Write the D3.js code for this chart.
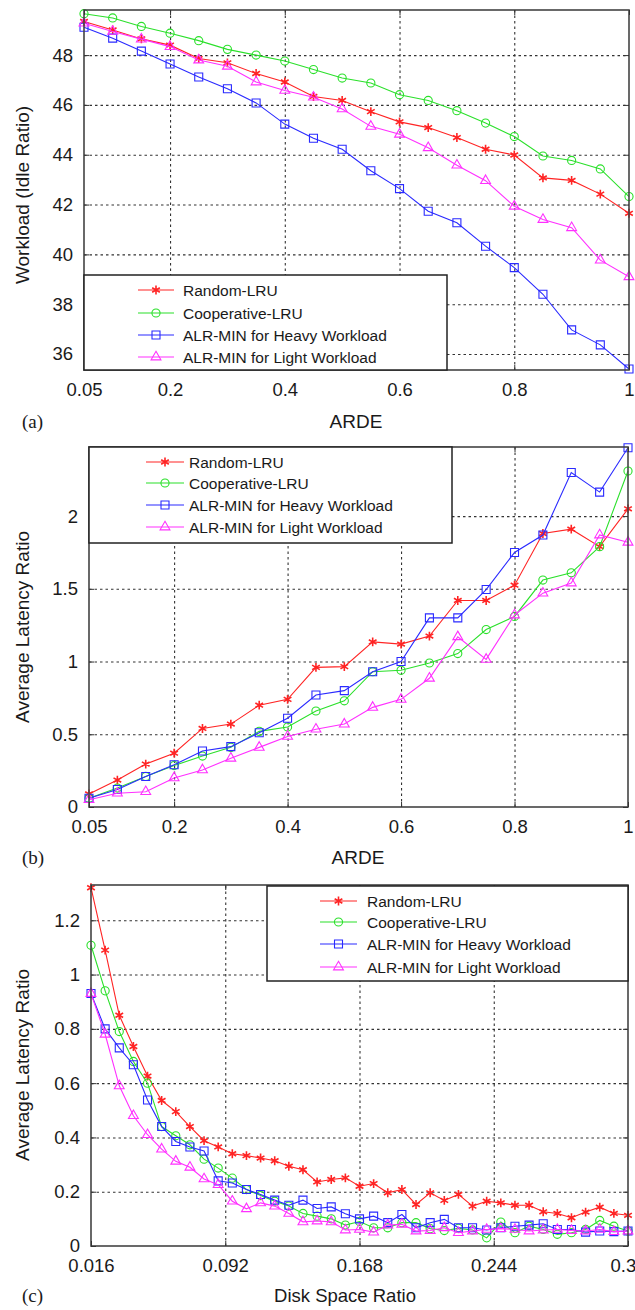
<!DOCTYPE html>
<html>
<head>
<meta charset="utf-8">
<script src="https://cdn.jsdelivr.net/npm/d3@7"></script>
<style>
  body { margin: 0; background: #fff; }
  svg { display: block; }
  text { font-family: "Liberation Sans", Arial, sans-serif; fill: #1a1a1a; }
  .tag { font-family: "Liberation Serif", "Times New Roman", serif; }
  .grid line { stroke: #333; stroke-width: 1.1; stroke-dasharray: 2.5,3; }
  .grid path, .tk path { display: none; }
  .tk line { stroke: #333; stroke-width: 1; }
</style>
</head>
<body>
<div id="chart"></div>
<script>
var seriesNames = ['Random-LRU', 'Cooperative-LRU', 'ALR-MIN for Heavy Workload', 'ALR-MIN for Light Workload'];

// panel (a) and (b): ARDE on x
var ardeX = [0.05, 0.1, 0.15, 0.2, 0.25, 0.3, 0.35, 0.4, 0.45, 0.5,
             0.55, 0.6, 0.65, 0.7, 0.75, 0.8, 0.85, 0.9, 0.95, 1.0];
var ardeTicks = [0.05, 0.2, 0.4, 0.6, 0.8, 1];
var ardeTickLabels = ['0.05', '0.2', '0.4', '0.6', '0.8', '1'];

// (a) workload (idle ratio)
var idleRandom = [49.35, 49.01, 48.65, 48.40, 47.86, 47.69, 47.26, 46.92, 46.34, 46.18,
                  45.73, 45.32, 45.09, 44.69, 44.22, 43.99, 43.07, 42.97, 42.42, 41.65];
var idleCoop   = [49.66, 49.49, 49.15, 48.88, 48.58, 48.23, 48.00, 47.76, 47.42, 47.08,
                  46.88, 46.41, 46.18, 45.77, 45.27, 44.73, 43.95, 43.77, 43.43, 42.32];
var idleHeavy  = [49.12, 48.68, 48.16, 47.64, 47.12, 46.65, 46.08, 45.23, 44.66, 44.22,
                  43.36, 42.64, 41.73, 41.27, 40.33, 39.47, 38.40, 36.97, 36.37, 35.40];
var idleLight  = [49.28, 48.95, 48.64, 48.34, 47.80, 47.55, 46.92, 46.58, 46.31, 45.84,
                  45.14, 44.82, 44.28, 43.58, 42.96, 41.93, 41.40, 41.07, 39.77, 39.10];
var idleTicks = [36, 38, 40, 42, 44, 46, 48];

// (b) average latency ratio vs ARDE
var latRandom = [0.09, 0.185, 0.295, 0.37, 0.54, 0.57, 0.70, 0.74, 0.96, 0.965,
                 1.135, 1.12, 1.175, 1.42, 1.42, 1.525, 1.88, 1.91, 1.79, 2.05];
var latCoop   = [0.06, 0.13, 0.21, 0.285, 0.35, 0.41, 0.52, 0.55, 0.66, 0.73,
                 0.93, 0.94, 0.99, 1.055, 1.22, 1.31, 1.56, 1.61, 1.79, 2.31];
var latHeavy  = [0.06, 0.12, 0.21, 0.29, 0.385, 0.415, 0.51, 0.61, 0.77, 0.80,
                 0.93, 1.0, 1.30, 1.30, 1.495, 1.75, 1.87, 2.30, 2.165, 2.47];
var latLight  = [0.05, 0.095, 0.105, 0.2, 0.255, 0.335, 0.41, 0.485, 0.535, 0.57,
                 0.685, 0.74, 0.885, 1.17, 1.015, 1.32, 1.47, 1.54, 1.87, 1.82];
var latTicks = [0, 0.5, 1, 1.5, 2];

// (c) average latency ratio vs disk space ratio
var diskX = [0.016, 0.024, 0.032, 0.040, 0.048, 0.056, 0.064, 0.072, 0.080, 0.088,
             0.096, 0.104, 0.112, 0.120, 0.128, 0.136, 0.144, 0.152, 0.160, 0.168,
             0.176, 0.184, 0.192, 0.200, 0.208, 0.216, 0.224, 0.232, 0.240, 0.248,
             0.256, 0.264, 0.272, 0.280, 0.288, 0.296, 0.304, 0.312, 0.320];
var diskTicks = [0.016, 0.092, 0.168, 0.244, 0.32];
var diskTickLabels = ['0.016', '0.092', '0.168', '0.244', '0.32'];
var diskRandom = [1.32, 1.09, 0.85, 0.735, 0.626, 0.536, 0.495, 0.44, 0.388, 0.365,
                  0.34, 0.333, 0.324, 0.314, 0.294, 0.281, 0.236, 0.245, 0.251, 0.22,
                  0.23, 0.196, 0.208, 0.153, 0.196, 0.168, 0.19, 0.147, 0.165, 0.159,
                  0.15, 0.15, 0.126, 0.12, 0.104, 0.125, 0.143, 0.12, 0.113];
var diskCoop   = [1.108, 0.94, 0.79, 0.68, 0.60, 0.44, 0.406, 0.373, 0.32, 0.287,
                  0.25, 0.208, 0.186, 0.165, 0.147, 0.12, 0.11, 0.10, 0.077, 0.09,
                  0.067, 0.067, 0.086, 0.086, 0.064, 0.057, 0.065, 0.059, 0.03, 0.088,
                  0.049, 0.073, 0.061, 0.043, 0.049, 0.061, 0.094, 0.073, 0.055];
var diskHeavy  = [0.93, 0.80, 0.73, 0.668, 0.538, 0.44, 0.385, 0.365, 0.35, 0.24,
                  0.232, 0.208, 0.19, 0.169, 0.15, 0.169, 0.138, 0.144, 0.119, 0.10,
                  0.11, 0.086, 0.116, 0.067, 0.086, 0.098, 0.067, 0.067, 0.059, 0.067,
                  0.073, 0.077, 0.082, 0.061, 0.061, 0.051, 0.055, 0.053, 0.055];
var diskLight  = [0.93, 0.78, 0.59, 0.48, 0.41, 0.357, 0.312, 0.29, 0.247, 0.226,
                  0.165, 0.137, 0.159, 0.147, 0.12, 0.089, 0.092, 0.089, 0.059, 0.061,
                  0.051, 0.077, 0.08, 0.055, 0.057, 0.067, 0.049, 0.055, 0.061, 0.064,
                  0.061, 0.055, 0.059, 0.061, 0.057, 0.055, 0.061, 0.053, 0.055];
var diskYTicks = [0, 0.2, 0.4, 0.6, 0.8, 1, 1.2];

var styles = [
  { color: '#ff2424', type: d3.symbolAsterisk, size: 55, sw: 1.6 },
  { color: '#2be02b', type: d3.symbolCircle,   size: 52, sw: 1.1 },
  { color: '#2a2aff', type: d3.symbolSquare,   size: 64, sw: 1.1 },
  { color: '#ff30ff', type: d3.symbolTriangle, size: 42, sw: 1.1 }
];

var W = 635, H = 1310;
var svg = d3.select('#chart').append('svg').attr('width', W).attr('height', H);

function drawPanel(p) {
  var x = d3.scaleLinear().domain(p.xDomain).range([p.l, p.r])
    , y = d3.scaleLinear().domain(p.yDomain).range([p.b, p.t])
    , g = svg.append('g')
    , inX = p.xTicks.slice(1, -1)
    , inY = p.yTicks.filter(function (v) { return y(v) < p.b - 2 && y(v) > p.t + 2; })
    ;

  // dotted grid
  g.append('g').attr('class', 'grid')
    .attr('transform', 'translate(0,' + p.b + ')')
    .call(d3.axisBottom(x).tickValues(inX).tickSize(-(p.b - p.t)).tickFormat(''));
  g.append('g').attr('class', 'grid')
    .attr('transform', 'translate(' + p.l + ',0)')
    .call(d3.axisLeft(y).tickValues(inY).tickSize(-(p.r - p.l)).tickFormat(''));

  // series
  p.series.forEach(function (vals, si) {
    var st = styles[si]
      , pts = vals.map(function (v, i) { return [p.xs[i], v]; })
      ;
    g.append('path')
      .attr('d', d3.line().x(function (d) { return x(d[0]); }).y(function (d) { return y(d[1]); })(pts))
      .attr('fill', 'none').attr('stroke', st.color).attr('stroke-width', 1.1);
    g.selectAll('.m' + si).data(pts).enter().append('path')
      .attr('transform', function (d) { return 'translate(' + x(d[0]) + ',' + y(d[1]) + ')'; })
      .attr('d', d3.symbol().type(st.type).size(st.size))
      .attr('fill', 'none').attr('stroke', st.color).attr('stroke-width', st.sw);
  });

  // frame + inward ticks
  g.append('rect').attr('x', p.l).attr('y', p.t).attr('width', p.r - p.l).attr('height', p.b - p.t)
    .attr('fill', 'none').attr('stroke', '#444').attr('stroke-width', 1.6);

  var bottom = g.append('g').attr('class', 'tk').attr('transform', 'translate(0,' + p.b + ')')
    .call(d3.axisBottom(x).tickValues(p.xTicks).tickSize(-5).tickPadding(13)
      .tickFormat(function (d, i) { return p.xLabels[i]; }));
  bottom.selectAll('text').style('font-size', '18.5px');
  g.append('g').attr('class', 'tk').attr('transform', 'translate(0,' + p.t + ')')
    .call(d3.axisTop(x).tickValues(p.xTicks).tickSize(-5).tickFormat(''));

  var left = g.append('g').attr('class', 'tk').attr('transform', 'translate(' + p.l + ',0)')
    .call(d3.axisLeft(y).tickValues(p.yTicks).tickSize(-5).tickPadding(11)
      .tickFormat(function (d) { return d3.format('~g')(d); }));
  left.selectAll('text').style('font-size', '18.5px');
  g.append('g').attr('class', 'tk').attr('transform', 'translate(' + p.r + ',0)')
    .call(d3.axisRight(y).tickValues(p.yTicks).tickSize(-5).tickFormat(''));

  // titles
  g.append('text').attr('transform', 'translate(22,' + p.yTitleY + ') rotate(-90)')
    .attr('text-anchor', 'middle').attr('dy', '0.35em').style('font-size', '19px').text(p.yTitle);
  g.append('text').attr('x', p.xTitleX).attr('y', p.xTitleY)
    .attr('text-anchor', 'middle').style('font-size', p.xTitleSize).text(p.xTitle);
  g.append('text').attr('class', 'tag').attr('x', 22).attr('y', p.xTitleY)
    .style('font-size', '19px').text(p.tag);

  // legend
  var lg = p.legend
    , leg = g.append('g')
    ;
  leg.append('rect').attr('x', lg.x0).attr('y', lg.y0).attr('width', lg.x1 - lg.x0).attr('height', lg.y1 - lg.y0)
    .attr('fill', '#fff').attr('stroke', '#222').attr('stroke-width', 1.5);
  seriesNames.forEach(function (name, si) {
    var st = styles[si]
      , ry = lg.rows[si]
      ;
    leg.append('line').attr('x1', lg.lx0).attr('x2', lg.lx1).attr('y1', ry).attr('y2', ry)
      .attr('stroke', st.color).attr('stroke-width', 1.1);
    leg.append('path').attr('transform', 'translate(' + (lg.lx0 + lg.lx1) / 2 + ',' + ry + ')')
      .attr('d', d3.symbol().type(st.type).size(st.size))
      .attr('fill', 'none').attr('stroke', st.color).attr('stroke-width', st.sw);
    leg.append('text').attr('x', lg.tx).attr('y', ry).attr('dy', '0.36em')
      .style('font-size', '15.5px').text(name);
  });
}

drawPanel({
  l: 84, r: 629, t: 10, b: 370,
  xDomain: [0.05, 1], yDomain: [35.36, 49.81],
  xs: ardeX, xTicks: ardeTicks, xLabels: ardeTickLabels, yTicks: idleTicks,
  series: [idleRandom, idleCoop, idleHeavy, idleLight],
  yTitle: 'Workload (Idle Ratio)', yTitleY: 195,
  xTitle: 'ARDE', xTitleX: 356, xTitleY: 428, xTitleSize: '19px', tag: '(a)',
  legend: { x0: 84, x1: 447, y0: 275, y1: 370, lx0: 138, lx1: 174, tx: 183, rows: [290, 313, 335, 357] }
});

drawPanel({
  l: 89, r: 628, t: 447, b: 807,
  xDomain: [0.05, 1], yDomain: [0, 2.475],
  xs: ardeX, xTicks: ardeTicks, xLabels: ardeTickLabels, yTicks: latTicks,
  series: [latRandom, latCoop, latHeavy, latLight],
  yTitle: 'Average Latency Ratio', yTitleY: 627,
  xTitle: 'ARDE', xTitleX: 358, xTitleY: 864, xTitleSize: '19px', tag: '(b)',
  legend: { x0: 89, x1: 452, y0: 447, y1: 543, lx0: 146, lx1: 184, tx: 189, rows: [462, 483, 505, 527] }
});

drawPanel({
  l: 91, r: 628, t: 885, b: 1246,
  xDomain: [0.016, 0.32], yDomain: [0, 1.33],
  xs: diskX, xTicks: diskTicks, xLabels: diskTickLabels, yTicks: diskYTicks,
  series: [diskRandom, diskCoop, diskHeavy, diskLight],
  yTitle: 'Average Latency Ratio', yTitleY: 1065,
  xTitle: 'Disk Space Ratio', xTitleX: 345, xTitleY: 1302, xTitleSize: '18.5px', tag: '(c)',
  legend: { x0: 267, x1: 628, y0: 886, y1: 981, lx0: 320, lx1: 357, tx: 367, rows: [901, 922, 944, 967] }
});
</script>
</body>
</html>
